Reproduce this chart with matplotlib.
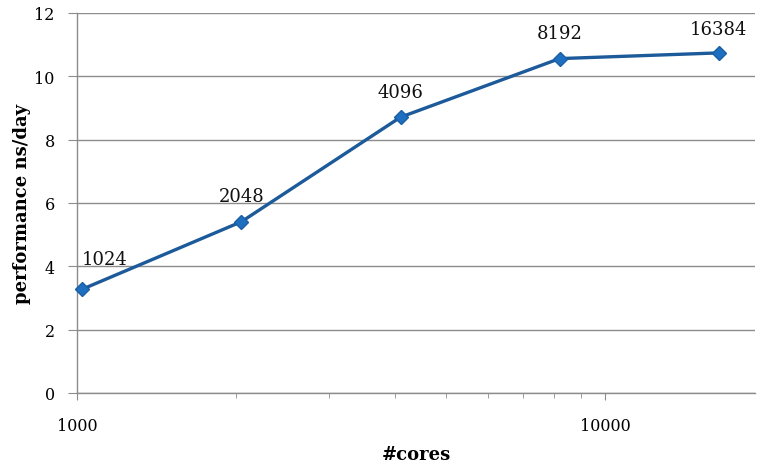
import matplotlib
matplotlib.use("Agg")
import matplotlib.pyplot as plt
from matplotlib.ticker import FixedLocator, NullFormatter, FuncFormatter

cores = [1024, 2048, 4096, 8192, 16384]
perf = [3.28, 5.41, 8.71, 10.56, 10.74]
labels = ["1024", "2048", "4096", "8192", "16384"]
yticks = [0, 2, 4, 6, 8, 10, 12]
xticks = [1000, 10000]

plt.rcParams['font.family'] = ['DejaVu Serif']

fig = plt.figure(figsize=(7.57, 4.64), dpi=100)
W, H = 757, 464
x0, x1, y0, y1 = 77, 755, 394, 14
ax = fig.add_axes([x0/W, (H-y0)/H, (x1-x0)/W, (y0-y1)/H])

ax.set_xscale('log')
ax.set_xlim(1000, 19200)
ax.set_ylim(0, 12)

ax.plot(cores, perf, color='#1c5a9a', lw=2.4, marker='D', ms=7,
        mfc='#1f6fc0', mec='#1a5fa5', mew=1, zorder=3, clip_on=False)

# offsets in pixels (dx, dy) converted to points
offsets_px = [(22, 30), (0, 26), (0, 25), (0, 26), (0, 24)]
for x, y, t, (dx, dy) in zip(cores, perf, labels, offsets_px):
    ax.annotate(t, (x, y), xytext=(dx*0.72, dy*0.72), textcoords='offset points',
                ha='center', va='center', fontsize=13, color='#111111')

ax.set_yticks(yticks)
ax.yaxis.grid(True, color='#8c8c8c', lw=1)
ax.set_axisbelow(True)
ax.xaxis.set_major_locator(FixedLocator(xticks))
ax.xaxis.set_major_formatter(FuncFormatter(lambda v, p: f"{int(v)}"))
ax.xaxis.set_minor_locator(FixedLocator([2000, 3000, 4000, 5000, 6000, 7000, 8000, 9000]))
ax.xaxis.set_minor_formatter(NullFormatter())

for s in ['top', 'right']:
    ax.spines[s].set_visible(False)
for s in ['left', 'bottom']:
    ax.spines[s].set_color('#8c8c8c')
    ax.spines[s].set_linewidth(1)

ax.tick_params(axis='y', which='major', length=6.5, color='#8c8c8c', pad=9.5, labelsize=11.5)
ax.tick_params(axis='x', which='major', length=5, color='#8c8c8c', pad=12.5, labelsize=11.5)
ax.tick_params(axis='x', which='minor', length=3.6, color='#8c8c8c')

ax.set_ylabel('performance ns/day', fontsize=13, fontweight='bold', va='center')
ax.yaxis.set_label_coords((22 - x0)/(x1 - x0), 0.5)
ax.set_xlabel('#cores', fontsize=13, fontweight='bold', va='center')
ax.xaxis.set_label_coords(0.5, (y0 - 455)/(y0 - y1))

fig.savefig('out.png', dpi=100)
